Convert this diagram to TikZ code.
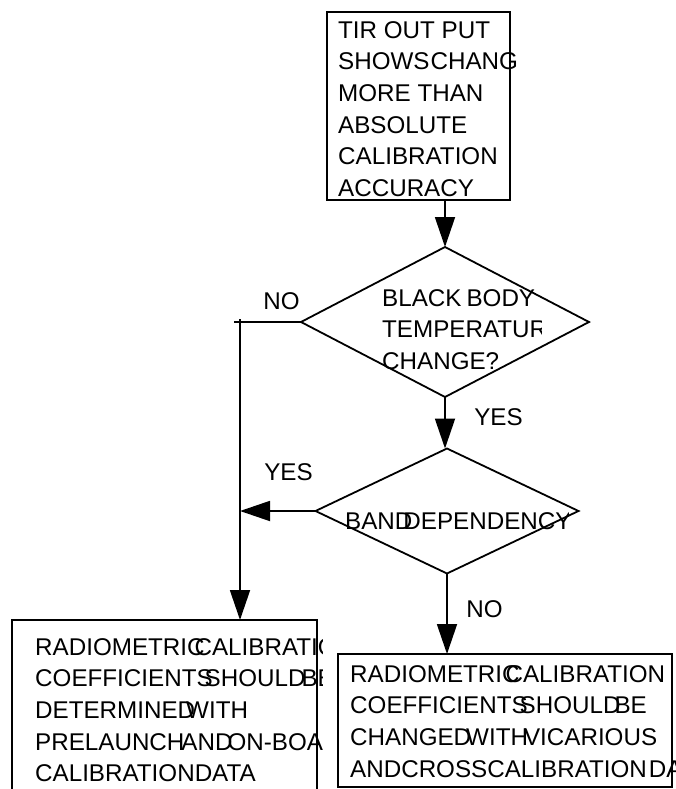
\documentclass[tikz,border=0pt]{standalone}
\usepackage{fontspec}
\setmainfont{Liberation Sans}
\usetikzlibrary{shapes.geometric}
\usetikzlibrary{arrows.meta}

\tikzset{
	flowbox/.style={draw, line width=1.8pt, inner sep=0pt, outer sep=0pt},
	decision/.style={draw, diamond, line width=1.8pt, inner sep=0pt, outer sep=0pt},
	txt/.style={inner sep=0pt, anchor=north west, align=left, font=\fontsize{24.2}{31.7}\selectfont},
	lbl/.style={inner sep=0pt, font=\fontsize{24.2}{28}\selectfont},
	arr/.style={-{Triangle[length=30pt,width=20pt]}, line width=1.8pt},
}

% pull two words together
\newcommand{\jn}[1]{\kern-#1pt}

\begin{document}
\begin{tikzpicture}[x=1pt, y=-1pt]
		\clip (0,0) rectangle (676,789);
		% boxes and decisions
		\node[flowbox, minimum width=183, minimum height=188] (start) at (418.5,106) {};
		\node[decision, minimum width=288, minimum height=150] (temp) at (445,322) {};
		\node[decision, minimum width=263, minimum height=125] (band) at (447,511) {};
		\node[flowbox, minimum width=305, minimum height=190] (prelaunch) at (164.5,715) {};
		\node[flowbox, minimum width=334, minimum height=133] (vicarious) at (505,720.5) {};

		% texts, cut off on the right
		\begin{scope}
			\clip (0,0) rectangle (518,789);
			\node[txt] (starttext) at (338,21) {TIR OUT PUT\\
				SHOWS\kern1pt CHANGE\\
				MORE THAN\\
				ABSOLUTE\\
				CALIBRATION\\
				ACCURACY};
		\end{scope}
		\begin{scope}
			\clip (0,0) rectangle (541,789);
			\node[txt] (temptext) at (382,289) {BLACK\kern5pt BODY\\
				TEMPERATURE\\
				CHANGE?};
		\end{scope}
		\begin{scope}
			\clip (0,0) rectangle (568,789);
			\node[txt] (bandtext) at (345,512) {BAND\jn{9}DEPENDENCY};
		\end{scope}
		\begin{scope}
			\clip (0,0) rectangle (322,789);
			\node[txt] (pretext) at (35,638) {RADIOMETRIC\jn{10}CALIBRATION\\
				COEFFICIENTS\jn{8}SHOULD\jn{4}BE\\
				DETERMINED\jn{9}WITH\\
				PRELAUNCH\jn{3}AND\jn{5}ON-BOARD\\
				CALIBRATION\kern0pt DATA};
		\end{scope}
		\node[txt] (victext) at (350,665) {RADIOMETRIC\jn{14}CALIBRATION\\
			COEFFICIENTS\jn{8}SHOULD\jn{6}BE\\
			CHANGED\jn{5}WITH\jn{4}VICARIOUS\\
			AND\kern0pt CROSS\kern0pt CALIBRATION\kern2pt DATA};

		% connectors
		\coordinate (nostub) at (234,322);
		\coordinate (trunk) at (240,319);
		\draw[arr] (start.south -| temp.north) to (temp.north);
		\draw[arr] (temp.south) to (temp.south |- band.north);
		\draw[line width=1.8pt] (temp.west) to (nostub);
		\draw[arr] (trunk) to (trunk |- prelaunch.north);
		\draw[arr] (band.west) to (trunk |- band.west);
		\draw[arr] (band.south) to (band.south |- vicarious.north);

		\node[lbl] (no1) at (281.5,301) {NO};
		\node[lbl] (yes1) at (498.5,417) {YES};
		\node[lbl] (yes2) at (288.5,472) {YES};
		\node[lbl] (no2) at (484.5,609) {NO};
	\end{tikzpicture}
\end{document}
